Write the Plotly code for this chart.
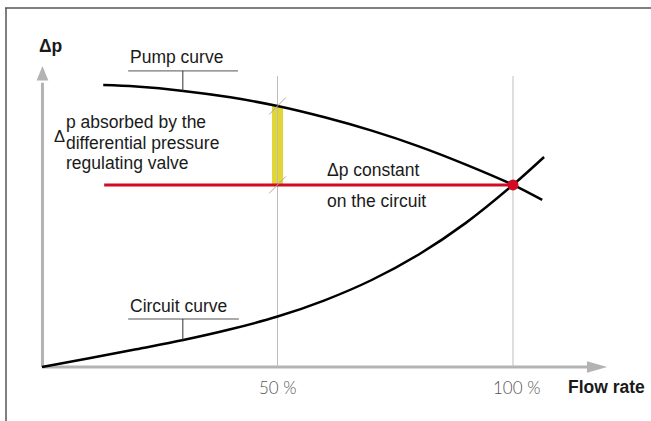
import plotly.graph_objects as go

# ---- data (flow in %, differential pressure in arbitrary units) ----
flow_pump = [13, 20, 30, 40, 50, 60, 70, 80, 90, 100, 106.2]
dp_pump = [97.2, 96.7, 95.2, 93.0, 90.0, 86.1, 81.5, 76.1, 69.8, 62.8, 57.6]

flow_circuit = [0, 10, 20, 30, 40, 50, 60, 70, 80, 90, 100, 106.6]
dp_circuit = [0, 3.0, 6.1, 9.3, 13.0, 17.4, 23.0, 30.0, 38.8, 49.7, 62.8, 72.4]

flow_constant = [13.2, 100]
dp_constant = 62.8

flow_ticks = [50, 100]
tick_labels = ["50 %", "100 %"]

partial_flow = 50
dp_pump_at_partial = 90.0

X_RANGE = [-8.917, 129.30]
Y_RANGE = [-18.62, 126.55]
AXIS_TOP = 100.3

GRAY_AXIS = "#b3b3b3"
RED = "#d20a22"
YELLOW = "#e2d635"
TXT = "#1a1a1a"
FONT = "Liberation Sans, Arial, sans-serif"

fig = go.Figure()

# yellow bar: pressure absorbed by regulating valve
fig.add_trace(go.Bar(x=[partial_flow], y=[dp_pump_at_partial - dp_constant], base=[dp_constant],
                     width=2.4, marker=dict(color=YELLOW, line=dict(width=0)),
                     hoverinfo="skip", showlegend=False))

# vertical reference lines at the tick flows
for fx in flow_ticks:
    fig.add_trace(go.Scatter(x=[fx, fx], y=[0, AXIS_TOP], mode="lines",
                             line=dict(color="#bdbdbd", width=1), hoverinfo="skip", showlegend=False))

shapes = []
# frame
shapes.append(dict(type="line", xref="paper", yref="paper", x0=5/651, x1=1, y0=1-8/421, y1=1-8/421,
                   line=dict(color="#555555", width=1.5)))
shapes.append(dict(type="line", xref="paper", yref="paper", x0=6/651, x1=6/651, y0=1-8/421, y1=0,
                   line=dict(color="#555555", width=1.5)))
# axes
shapes.append(dict(type="line", x0=0.1, x1=0.1, y0=0, y1=98, line=dict(color=GRAY_AXIS, width=3), layer="below"))
shapes.append(dict(type="line", x0=0.1, x1=117, y0=0, y1=0, line=dict(color=GRAY_AXIS, width=3), layer="below"))
# arrow heads
shapes.append(dict(type="path", path="M -1.15,98.8 L 1.35,98.8 L 0.1,103.8 Z",
                   fillcolor=GRAY_AXIS, line=dict(width=0), layer="below"))
shapes.append(dict(type="path", path="M 115.7,-2.0 L 115.7,2.0 L 120.0,0 Z",
                   fillcolor=GRAY_AXIS, line=dict(width=0), layer="below"))
# break marks at 50 %
for yy in [dp_pump_at_partial, dp_constant]:
    shapes.append(dict(type="line", x0=partial_flow - 1.75, x1=partial_flow + 1.75,
                       y0=yy - 2.9, y1=yy + 2.9, line=dict(color="#a8a8a8", width=1), layer="above"))
# label leaders
shapes.append(dict(type="line", x0=18.3, x1=41.6, y0=102.1, y1=102.1, line=dict(color="#555", width=1)))
shapes.append(dict(type="line", x0=29.9, x1=29.9, y0=102.1, y1=95.2, line=dict(color="#333", width=1)))
shapes.append(dict(type="line", x0=18.3, x1=41.8, y0=16.55, y1=16.55, line=dict(color="#555", width=1)))
shapes.append(dict(type="line", x0=29.9, x1=29.9, y0=16.55, y1=9.3, line=dict(color="#333", width=1)))

# curves
fig.add_trace(go.Scatter(x=flow_pump, y=dp_pump, mode="lines", line=dict(color="black", width=2.5, shape="spline"),
                         hoverinfo="skip", showlegend=False))
fig.add_trace(go.Scatter(x=flow_circuit, y=dp_circuit, mode="lines", line=dict(color="black", width=2.5, shape="spline"),
                         hoverinfo="skip", showlegend=False))
fig.add_trace(go.Scatter(x=flow_constant, y=[dp_constant] * 2, mode="lines", line=dict(color=RED, width=3),
                         hoverinfo="skip", showlegend=False))
fig.add_trace(go.Scatter(x=[flow_constant[-1]], y=[dp_constant], mode="markers",
                         marker=dict(color=RED, size=11, line=dict(width=0)), hoverinfo="skip", showlegend=False))

def ann(text, x, y, size=17.5, xanchor="left", color=TXT, bold=False, family=FONT, weight=None):
    f = dict(size=size, color=color, family=family)
    if weight is not None:
        f["weight"] = weight
    return dict(text=("<b>%s</b>" % text) if bold else text, x=x, y=y, xref="x", yref="y",
                xanchor=xanchor, yanchor="middle", showarrow=False, font=f)

annotations = [
    ann("Δp", 1.7, 110.7, size=17.5, xanchor="center", bold=True),
    ann("Pump curve", 18.3, 106.9),
    ann("Circuit curve", 18.3, 21.0),
    ann("Δ", 3.7, 79.5, size=16.5, xanchor="center"),
    ann("p absorbed by the", 4.7, 84.5),
    ann("differential pressure", 4.7, 77.2),
    ann("regulating valve", 4.7, 70.3),
    ann("Δp constant", 60.0, 67.9),
    ann("on the circuit", 60.0, 57.2),
    ann(tick_labels[0], flow_ticks[0], -6.9, size=17, xanchor="center", color="#555555",
        family="Lato, Open Sans, sans-serif", weight=300),
    ann(tick_labels[1], flow_ticks[1] + 0.8, -6.9, size=17, xanchor="center", color="#555555",
        family="Lato, Open Sans, sans-serif", weight=300),
    ann("Flow rate", 111.3, -6.9, size=17.5, bold=True),
]

fig.update_layout(
    width=651, height=421, margin=dict(l=0, r=0, t=0, b=0),
    paper_bgcolor="white", plot_bgcolor="white",
    xaxis=dict(range=X_RANGE, visible=False, fixedrange=True),
    yaxis=dict(range=Y_RANGE, visible=False, fixedrange=True),
    shapes=shapes, annotations=annotations, showlegend=False, bargap=0,
)

fig.write_html("out.html", config={"displayModeBar": False},
               post_script="document.body.style.margin='0';")
